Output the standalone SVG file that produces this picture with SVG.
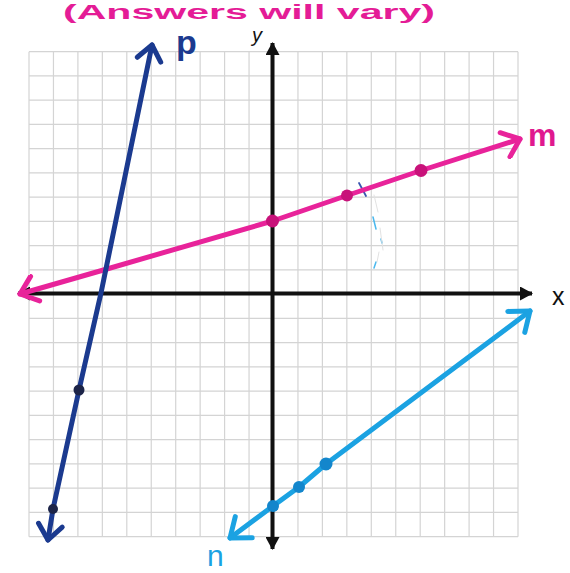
<svg xmlns="http://www.w3.org/2000/svg" width="570" height="573" viewBox="0 0 570 573">
<style>
.grid{stroke:#d4d4d4;stroke-width:1.2;fill:none}
.axis{stroke:#111;stroke-width:4;fill:none}
.m{stroke:#e8239a;stroke-width:5;fill:none;stroke-linecap:round;stroke-linejoin:round}
.p{stroke:#1b3a8f;stroke-width:5;fill:none;stroke-linecap:round;stroke-linejoin:round}
.n{stroke:#1ba2e2;stroke-width:5;fill:none;stroke-linecap:round;stroke-linejoin:round}
.dm{fill:#c8127a}
.dp{fill:#1c2448}
.dn{fill:#1386cc}
.lbl{font-family:"Liberation Sans",Arial,sans-serif}
</style>
<defs>
<marker id="ax" viewBox="-12 -7 14 14" refX="0" refY="0" markerWidth="14" markerHeight="14" markerUnits="userSpaceOnUse" orient="auto-start-reverse">
<path d="M-12,-7 L1,0 L-12,7 Z" fill="#111"/>
</marker>
<marker id="am" viewBox="-22 -16 26 32" refX="0" refY="0" markerWidth="26" markerHeight="32" markerUnits="userSpaceOnUse" orient="auto-start-reverse">
<path d="M-17,-12 L0,0 L-15,14" fill="none" stroke="#e8239a" stroke-width="5" stroke-linecap="round" stroke-linejoin="round"/>
</marker>
<marker id="ap" viewBox="-22 -16 26 32" refX="0" refY="0" markerWidth="26" markerHeight="32" markerUnits="userSpaceOnUse" orient="auto-start-reverse">
<path d="M-15,-12 L0,0 L-15,12" fill="none" stroke="#1b3a8f" stroke-width="5" stroke-linecap="round" stroke-linejoin="round"/>
</marker>
<marker id="an" viewBox="-24 -18 28 36" refX="0" refY="0" markerWidth="28" markerHeight="36" markerUnits="userSpaceOnUse" orient="auto-start-reverse">
<path d="M-18,-13 L0,0 L-17,14" fill="none" stroke="#1ba2e2" stroke-width="5" stroke-linecap="round" stroke-linejoin="round"/>
</marker>
</defs>
<rect width="570" height="573" fill="#fff"/>
<g id="grid" class="grid">
<path d="M29,51.7V536.7M53.45,51.7V536.7M77.9,51.7V536.7M102.35,51.7V536.7M126.8,51.7V536.7M151.25,51.7V536.7M175.7,51.7V536.7M200.15,51.7V536.7M224.6,51.7V536.7M249.05,51.7V536.7M273.5,51.7V536.7M297.95,51.7V536.7M322.4,51.7V536.7M346.85,51.7V536.7M371.3,51.7V536.7M395.75,51.7V536.7M420.2,51.7V536.7M444.65,51.7V536.7M469.1,51.7V536.7M493.55,51.7V536.7M518,51.7V536.7"/>
<path d="M29,51.7H518M29,75.95H518M29,100.2H518M29,124.45H518M29,148.7H518M29,172.95H518M29,197.2H518M29,221.45H518M29,245.7H518M29,269.95H518M29,294.2H518M29,318.45H518M29,342.7H518M29,366.95H518M29,391.2H518M29,415.45H518M29,439.7H518M29,463.95H518M29,488.2H518M29,512.45H518M29,536.7H518"/>
</g>
<g id="axes">
<path class="axis" d="M18,293.5H532" marker-start="url(#ax)" marker-end="url(#ax)"/>
<path class="axis" d="M272.5,43V549" marker-start="url(#ax)" marker-end="url(#ax)"/>
<text class="lbl" x="552" y="305" font-size="25" fill="#111">x</text>
<text class="lbl" x="252" y="42" font-size="20" font-style="italic" fill="#111">y</text>
</g>
<g id="marks" fill="none" stroke-linecap="round">
<path d="M359,183 L366,196" stroke="#3a55b0" stroke-width="1.8"/>
<path d="M373,217 L376,229 M381,239 L382,243 M376,262 L374,268" stroke="#4ab8ee" stroke-width="1.5"/>
<path d="M374,195 L378,212 M380,228 L383,250 M379,252 L377,262" stroke="#e2e2e2" stroke-width="1"/>
</g>
<g id="connectors">
<path id="line-m" class="m" d="M20,294 L100,271 L272.5,221 L347,195.5 L421,170.5 L520,139" marker-start="url(#am)" marker-end="url(#am)"/>
<path id="line-p" class="p" d="M48,540 L53,509 L79,390 L101,293 L152,45" marker-start="url(#ap)" marker-end="url(#ap)"/>
<path id="line-n" class="n" d="M230,538 L273,506 L299,487 L326,464 L530,311" marker-start="url(#an)" marker-end="url(#an)"/>
</g>
<g id="m">
<circle class="dm" cx="272.5" cy="221" r="6.5"/>
<circle class="dm" cx="347" cy="195.5" r="6"/>
<circle class="dm" cx="421" cy="170.5" r="6.5"/>
<text class="lbl" x="528" y="146" font-size="32" font-weight="bold" fill="#e0198f">m</text>
</g>
<g id="p">
<circle class="dp" cx="79" cy="390" r="5.5"/>
<circle class="dp" cx="53" cy="509" r="5"/>
<text class="lbl" x="176" y="54" font-size="34" font-weight="bold" fill="#1b3a8f">p</text>
</g>
<g id="n">
<circle class="dn" cx="273" cy="506" r="6"/>
<circle class="dn" cx="299" cy="487" r="6"/>
<circle class="dn" cx="326" cy="464" r="6.5"/>
<text class="lbl" x="207" y="566" font-size="30" fill="#1ba2e2">n</text>
</g>
<g id="title">
<text class="lbl" x="63" y="18.5" font-size="20" font-weight="bold" fill="#e41c96" textLength="372" lengthAdjust="spacingAndGlyphs">(Answers will vary)</text>
</g>
</svg>
